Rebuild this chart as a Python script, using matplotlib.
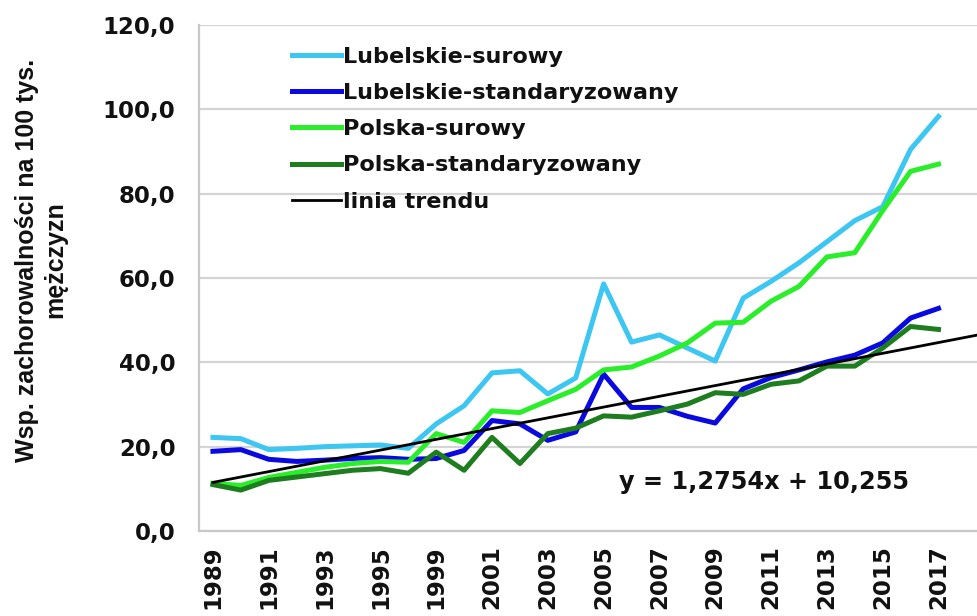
import numpy as np
import matplotlib
matplotlib.use("Agg")
import matplotlib.pyplot as plt
from matplotlib.ticker import FuncFormatter

# ── Data ─────────────────────────────────────────────────────────────────────
years = [1989, 1990, 1991, 1992, 1993, 1994, 1995, 1996,
         1999, 2000, 2001, 2002, 2003, 2004, 2005, 2006, 2007, 2008,
         2009, 2010, 2011, 2012, 2013, 2014, 2015, 2016, 2017]

lubelskie_surowy = [22.2, 21.9, 19.3, 19.6, 20.0, 20.2, 20.4, 19.6,
                    25.4, 29.7, 37.5, 38.0, 32.5, 36.3, 58.6, 44.8, 46.5, 43.4,
                    40.3, 55.2, 59.2, 63.6, 68.6, 73.6, 76.9, 90.5, 98.3]
lubelskie_std = [18.9, 19.3, 17.0, 16.5, 16.8, 17.2, 17.4, 17.0,
                 17.2, 19.1, 26.2, 25.4, 21.5, 23.5, 37.2, 29.3, 29.3, 27.2,
                 25.6, 33.7, 36.4, 38.2, 40.1, 41.7, 44.6, 50.5, 52.8]
polska_surowy = [11.3, 10.8, 12.7, 13.9, 15.1, 16.0, 16.5, 16.3,
                 23.1, 21.0, 28.5, 28.1, 30.9, 33.6, 38.2, 38.9, 41.5, 44.6,
                 49.3, 49.5, 54.5, 58.0, 65.0, 66.0, 76.0, 85.3, 87.0]
polska_std = [11.0, 9.7, 12.0, 12.8, 13.6, 14.4, 14.8, 13.7,
              18.7, 14.4, 22.2, 16.0, 23.1, 24.4, 27.3, 27.0, 28.5, 30.1,
              32.8, 32.4, 34.8, 35.6, 39.1, 39.1, 43.4, 48.5, 47.8]

# Linear trend: y = a*x + b, x counted from 1
trend_a, trend_b = 1.2754, 10.255

series = [
    ("Lubelskie-surowy", lubelskie_surowy, "#3cc6f2"),
    ("Lubelskie-standaryzowany", lubelskie_std, "#0a0ae0"),
    ("Polska-surowy", polska_surowy, "#2aee2a"),
    ("Polska-standaryzowany", polska_std, "#1e7d1e"),
]

# ── Figure ───────────────────────────────────────────────────────────────────
fig = plt.figure(figsize=(9.77, 6.16), dpi=100)
ax = fig.add_axes([199 / 977, 85 / 616, 778 / 977, 506 / 616])

x = np.arange(len(years))
for label, vals, color in series:
    ax.plot(x, vals, color=color, lw=3.6, label=label,
            solid_joinstyle="round", zorder=3)

xt = np.array([0, 28.5])
ax.plot(xt, trend_a * (xt + 1) + trend_b, color="black", lw=2.0,
        label="linia trendu", zorder=4)

ax.set_xlim(-0.5, 27.38)
ax.set_ylim(0, 120)
ax.set_yticks(np.arange(0, 121, 20))
ax.yaxis.set_major_formatter(FuncFormatter(lambda v, _: f"{v:.1f}".replace(".", ",")))
ax.set_xticks(x[::2])
ax.set_xticklabels([str(y) for y in years[::2]], rotation=90)

ax.tick_params(axis="both", length=0, labelsize=16.5)
ax.tick_params(axis="y", pad=17)
ax.tick_params(axis="x", pad=10)
for lbl in ax.get_xticklabels() + ax.get_yticklabels():
    lbl.set_fontweight("bold")
    lbl.set_color("#111111")

ax.grid(axis="y", color="#d4d4d4", lw=1.6)
ax.set_axisbelow(True)
for side in ("top", "right"):
    ax.spines[side].set_visible(False)
for side in ("left", "bottom"):
    ax.spines[side].set_color("#c8c8c8")
    ax.spines[side].set_linewidth(1.6)

leg = ax.legend(loc="upper left", bbox_to_anchor=(0.108, 0.974), frameon=False,
                handlelength=2.18, handletextpad=0.1, labelspacing=0.72,
                prop={"weight": "bold", "size": 16.1}, borderaxespad=0)
for t in leg.get_texts():
    t.set_color("#111111")

ax.text(764, 616 - 482, "y = 1,2754x + 10,255", transform=None,
        ha="center", va="center", fontsize=17.3, fontweight="bold", color="#111111")

fig.text(41 / 977, 1 - 260 / 616, "Wsp. zachorowalności na 100 tys.\nmężczyzn",
         rotation=90, ha="center", va="center", multialignment="center",
         fontsize=18, fontweight="bold", family="Liberation Sans", color="#111111")

fig.savefig("out.png", dpi=100)
